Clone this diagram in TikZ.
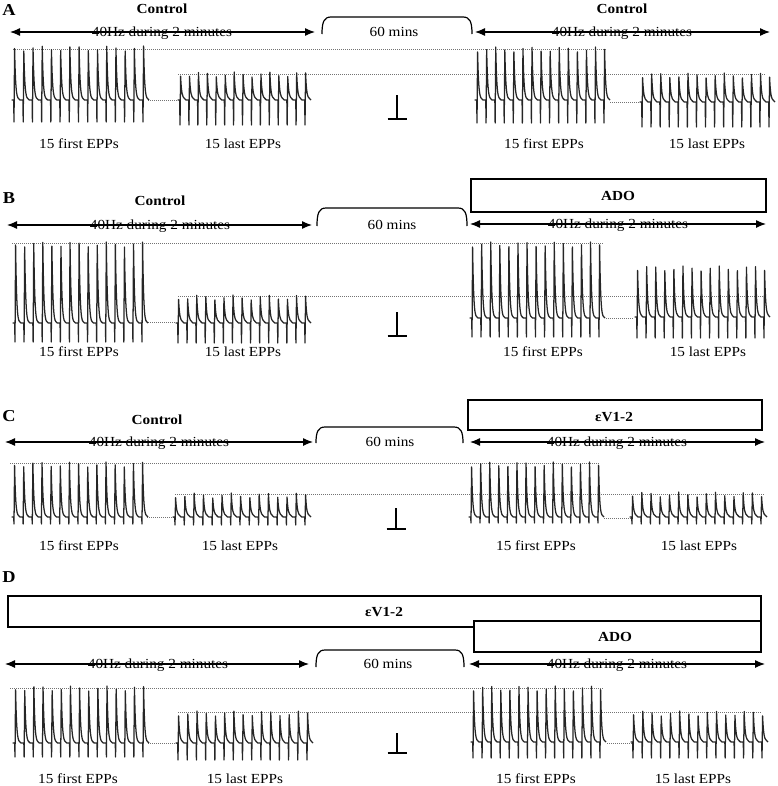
\documentclass[tikz,border=0pt]{standalone}
\usepackage{fontspec}
\setmainfont{Liberation Serif}[FakeStretch=1.1]
\usetikzlibrary{arrows.meta}
\tikzset{
  trace/.style={line width=0.95pt, black!85, line join=round},
  guide/.style={densely dotted, line width=0.5pt, black!55},
  spanline/.style={line width=0.9pt},
  dblarrow/.style={line width=0.9pt, {Latex[length=7.5pt,width=6pt]}-{Latex[length=7.5pt,width=6pt]}},
  boxline/.style={line width=0.9pt},
  lbl/.style={font=\fontsize{10.4}{12}\selectfont, inner sep=0pt, anchor=base},
  ttl/.style={font=\bfseries\fontsize{10.4}{12}\selectfont, inner sep=0pt, anchor=base},
  letter/.style={font=\bfseries\fontsize{12.5}{14}\selectfont, inner sep=0pt, anchor=base},
}
% x0 xlast base peak bottom phase
\newcommand\epptrace[6]{%
  \draw[trace] ({#1-2.5},#3) \foreach \i in {0,...,14}{
    -- ({#1+\i*(#2-#1)/14-0.3},#3)
    -- ({#1+\i*(#2-#1)/14},#5)
    -- ({#1+\i*(#2-#1)/14+0.6},{#4+2.5*(1+sin(\i*97+#6))})
    .. controls ({#1+\i*(#2-#1)/14+1.4},{#3-0.22*(#3-#4)}) and ({#1+\i*(#2-#1)/14+2.5},{#3-3}) ..
       ({#1+\i*(#2-#1)/14+4.5},{#3-1.5})
    -- ({#1+\i*(#2-#1)/14+6},#3)};
}
% x1 x2 top bottom
\newcommand\waitbracket[4]{%
  \draw[spanline] (#1,#4) .. controls (#1,{#3+5}) and ({#1+2},#3) .. ({#1+9},#3)
    -- ({#2-9},#3) .. controls ({#2-2},#3) and (#2,{#3+5}) .. (#2,#4);
}
% x top bottom
\newcommand\perpmark[3]{%
  \draw[line width=0.9pt] (#1,#2) -- (#1,#3) ({#1-9.5},#3) -- ({#1+9.5},#3);
}
\begin{document}
\begin{tikzpicture}[x=0.75pt,y=-0.75pt]
\useasboundingbox (0,0) rectangle (778,786);

%================ Panel A
\node[letter] (lA) at (9,15) {A};
\node[ttl] (ctlA1) at (162,13) {Control};
\node[ttl] (ctlA2) at (622,13) {Control};
\coordinate (aA1) at (10,32); \coordinate (bA1) at (315,32);
\coordinate (aA2) at (475,32); \coordinate (bA2) at (770,32);
\draw[dblarrow] (aA1) -- (bA1);
\draw[dblarrow] (aA2) -- (bA2);
\node[lbl] (hzA1) at (162,36) {40Hz during 2 minutes};
\node[lbl] (hzA2) at (622,36) {40Hz during 2 minutes};
\waitbracket{322}{472}{17}{34}
\node[lbl] (minA) at (394,36) {60 mins};
\draw[guide] (13,49) -- (607,49);
\draw[guide] (178,74) -- (765,74);
\draw[guide] (148,100) -- (177,100);
\draw[guide] (610,102) -- (640,102);
\epptrace{14}{143}{100}{46}{122}{0}
\epptrace{180}{305}{100}{72}{125}{40}
\epptrace{477}{604}{100}{47}{123}{80}
\epptrace{642}{769}{102}{73}{127}{120}
\perpmark{397}{95}{119}
\node[lbl] (fA1) at (79,148) {15 first EPPs};
\node[lbl] (lA1) at (243,148) {15 last EPPs};
\node[lbl] (fA2) at (544,148) {15 first EPPs};
\node[lbl] (lA2) at (707,148) {15 last EPPs};

%================ Panel B
\node[letter] (lB) at (9,203) {B};
\node[ttl] (ctlB) at (160,205) {Control};
\draw[boxline] (471,179) rectangle (766,212);
\node[ttl] (adoB) at (618,200) {ADO};
\coordinate (aB1) at (7,225); \coordinate (bB1) at (312,225);
\coordinate (aB2) at (470,224); \coordinate (bB2) at (766,224);
\draw[dblarrow] (aB1) -- (bB1);
\draw[dblarrow] (aB2) -- (bB2);
\node[lbl] (hzB1) at (160,229) {40Hz during 2 minutes};
\node[lbl] (hzB2) at (618,228) {40Hz during 2 minutes};
\waitbracket{317}{467}{208}{226}
\node[lbl] (minB) at (392,229) {60 mins};
\draw[guide] (12,243) -- (603,243);
\draw[guide] (178,296) -- (763,296);
\draw[guide] (148,322) -- (176,322);
\draw[guide] (606,318) -- (634,318);
\epptrace{15}{142}{323}{242}{342}{10}
\epptrace{178}{305}{323}{295}{343}{50}
\epptrace{472}{599}{318}{242}{337}{90}
\epptrace{637}{764}{317}{266}{338}{130}
\perpmark{397}{312}{336}
\node[lbl] (fB1) at (79,356) {15 first EPPs};
\node[lbl] (lB1) at (243,356) {15 last EPPs};
\node[lbl] (fB2) at (543,356) {15 first EPPs};
\node[lbl] (lB2) at (708,356) {15 last EPPs};

%================ Panel C
\node[letter] (lC) at (9,421) {C};
\node[ttl] (ctlC) at (157,424) {Control};
\draw[boxline] (468,400) rectangle (762,430);
\node[ttl] (epsC) at (614,421) {εV1-2};
\coordinate (aC1) at (5,442); \coordinate (bC1) at (313,442);
\coordinate (aC2) at (470,442); \coordinate (bC2) at (765,442);
\draw[dblarrow] (aC1) -- (bC1);
\draw[dblarrow] (aC2) -- (bC2);
\node[lbl] (hzC1) at (159,446) {40Hz during 2 minutes};
\node[lbl] (hzC2) at (617,446) {40Hz during 2 minutes};
\waitbracket{316}{463}{427}{443}
\node[lbl] (minC) at (390,446) {60 mins};
\draw[guide] (10,463) -- (600,463);
\draw[guide] (175,494) -- (765,494);
\draw[guide] (147,517) -- (175,517);
\draw[guide] (604,518) -- (632,518);
\epptrace{14}{142}{517}{462}{524}{20}
\epptrace{175}{305}{517}{493}{525}{60}
\epptrace{471}{598}{517}{462}{523}{100}
\epptrace{632}{761}{517}{492}{524}{140}
\perpmark{396}{508}{529}
\node[lbl] (fC1) at (79,550) {15 first EPPs};
\node[lbl] (lC1) at (240,550) {15 last EPPs};
\node[lbl] (fC2) at (536,550) {15 first EPPs};
\node[lbl] (lC2) at (699,550) {15 last EPPs};

%================ Panel D
\node[letter] (lD) at (9,582) {D};
\draw[boxline] (8,596) rectangle (761,627);
\node[ttl] (epsD) at (384,616) {εV1-2};
\draw[boxline, fill=white] (474,621) rectangle (761,652);
\node[ttl] (adoD) at (615,641) {ADO};
\coordinate (aD1) at (5,664); \coordinate (bD1) at (309,664);
\coordinate (aD2) at (469,664); \coordinate (bD2) at (765,664);
\draw[dblarrow] (aD1) -- (bD1);
\draw[dblarrow] (aD2) -- (bD2);
\node[lbl] (hzD1) at (158,668) {40Hz during 2 minutes};
\node[lbl] (hzD2) at (617,668) {40Hz during 2 minutes};
\waitbracket{316}{464}{650}{667}
\node[lbl] (minD) at (388,668) {60 mins};
\draw[guide] (10,688) -- (603,688);
\draw[guide] (178,712) -- (762,712);
\draw[guide] (148,743) -- (177,743);
\draw[guide] (607,743) -- (632,743);
\epptrace{15}{143}{743}{686}{757}{30}
\epptrace{178}{307}{743}{711}{760}{70}
\epptrace{473}{600}{742}{686}{758}{110}
\epptrace{633}{762}{742}{711}{758}{150}
\perpmark{397}{733}{753}
\node[lbl] (fD1) at (78,783) {15 first EPPs};
\node[lbl] (lD1) at (245,783) {15 last EPPs};
\node[lbl] (fD2) at (536,783) {15 first EPPs};
\node[lbl] (lD2) at (693,783) {15 last EPPs};
\end{tikzpicture}
\end{document}
